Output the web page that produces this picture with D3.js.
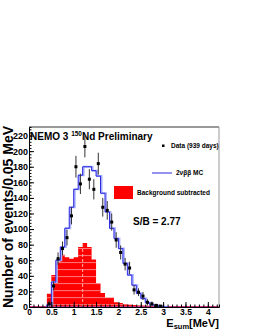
<!DOCTYPE html>
<html>
<head>
<meta charset="utf-8">
<script src="https://cdn.jsdelivr.net/npm/d3@7"></script>
<style>
body { margin: 0; background: #fff; }
svg { display: block; }
text { font-family: "Liberation Sans", Arial, sans-serif; font-weight: bold; }
</style>
</head>
<body>
<script>
var w = 255, h = 330;
var x0 = 29, x1 = 219, y0 = 307, y1 = 127;

// data points (background subtracted), bin centres in MeV
var dataE = [0.45, 0.55, 0.65, 0.75, 0.85, 0.95, 1.05, 1.15, 1.25, 1.35, 1.45, 1.55, 1.65,
             1.75, 1.85, 1.95, 2.05, 2.15, 2.25, 2.35, 2.45, 2.55, 2.65, 2.75, 2.85, 2.95];
var dataN = [4, 27, 62, 75, 89, 117, 180, 158, 206, 164, 151, 184, 128,
             124, 109, 86, 70, 55, 50, 22, 19, 14, 6, 4, 2, 1];
var dataErr = [4, 6, 8, 9, 10, 11, 14, 13, 14, 13, 13, 14, 12,
               12, 11, 10, 9, 8, 8, 6, 5, 5, 4, 3, 2, 2];

// 2nubb MC histogram, low bin edges
var mcLo = [0.4, 0.5, 0.6, 0.7, 0.8, 0.9, 1.0, 1.1, 1.2, 1.3, 1.4, 1.5, 1.6, 1.7,
            1.8, 1.9, 2.0, 2.1, 2.2, 2.3, 2.4, 2.5, 2.6, 2.7, 2.8, 2.9, 3.0];
var mcN = [3, 32, 60, 77, 101, 128, 151, 169, 180, 180, 175, 168, 146, 122,
           101, 88, 75, 56, 41, 28, 17.5, 11, 5.5, 3, 1.5, 0.7, 0];

// red histogram, low bin edges
var bgLo = [0.4, 0.5, 0.6, 0.7, 0.8, 0.9, 1.0, 1.1, 1.2, 1.3, 1.4, 1.5, 1.6, 1.7, 1.8, 1.9,
            2.0, 2.1, 2.2, 2.3, 2.4, 2.5, 2.6, 2.7, 2.8, 2.9, 3.0, 3.1, 3.2, 3.3, 3.4, 3.5,
            3.6, 3.7, 3.8, 3.9, 4.0, 4.1];
var bgN = [17, 41, 58, 67, 64, 62, 64, 77, 82, 77, 61, 30, 18, 12, 12, 6,
           5, 4, 3, 2.5, 2, 2, 1.5, 1.5, 1.5, 1.2, 1.2, 1, 1, 1, 1, 1,
           1, 1, 1, 1, 1, 1];
var binW = 0.1;

var xTicks = [0, 0.5, 1, 1.5, 2, 2.5, 3, 3.5, 4];
var yTicks = [0, 20, 40, 60, 80, 100, 120, 140, 160, 180, 200, 220];

var x = d3.scaleLinear().domain([0, 4.25]).range([x0, x1]);
var y = d3.scaleLinear().domain([0, 231]).range([y0, y1]);

var svg = d3.select("body").append("svg")
  .attr("width", w)
  .attr("height", h);

// step path helper
function stepPts(lo, vals) {
  var pts = [[x(lo[0]), y(0)]];
  lo.forEach(function(e, i) {
    pts.push([x(e), y(vals[i])]);
    pts.push([x(e + binW), y(vals[i])]);
  });
  pts.push([x(lo[lo.length - 1] + binW), y(0)]);
  return pts;
}

var bgPts = stepPts(bgLo, bgN);
var line = d3.line();

svg.append("clipPath").attr("id", "bgclip")
  .append("path").attr("d", line(bgPts) + "Z");

svg.append("path")
  .attr("d", line(bgPts) + "Z")
  .attr("fill", "#ff0000");

// faint hatch lines inside the red area
var hatch = svg.append("g").attr("clip-path", "url(#bgclip)");
d3.range(3, 90, 9).forEach(function(v) {
  hatch.append("line")
    .attr("x1", x0).attr("x2", x1)
    .attr("y1", y(v)).attr("y2", y(v))
    .attr("stroke", "#ff9a9a").attr("stroke-width", 0.8);
});
hatch.append("line")
  .attr("x1", x(1.2)).attr("x2", x(1.2))
  .attr("y1", y0).attr("y2", y(90))
  .attr("stroke", "#ffb0b0").attr("stroke-width", 1)
  .attr("stroke-dasharray", "3,2");

// zero line in magenta
svg.append("line")
  .attr("x1", x0).attr("x2", x1)
  .attr("y1", y0 - 0.5).attr("y2", y0 - 0.5)
  .attr("stroke", "#cc3388").attr("stroke-width", 1.2);

// MC histogram: pale shadow then dark blue line
var mcPts = stepPts(mcLo, mcN);
svg.append("path")
  .attr("d", line(mcPts.map(function(p) { return [p[0] + 1, p[1]]; })))
  .attr("fill", "none")
  .attr("stroke", "#aab0ff")
  .attr("stroke-width", 2);
svg.append("path")
  .attr("d", line(mcPts))
  .attr("fill", "none")
  .attr("stroke", "#2a2ae0")
  .attr("stroke-width", 1);

// data points with error bars
var pts = svg.append("g");
dataE.forEach(function(e, i) {
  pts.append("line")
    .attr("x1", x(e)).attr("x2", x(e))
    .attr("y1", y(Math.max(0, dataN[i] - dataErr[i])))
    .attr("y2", y(dataN[i] + dataErr[i]))
    .attr("stroke", "#333").attr("stroke-width", 1);
  pts.append("rect")
    .attr("x", x(e) - 1.5).attr("y", y(dataN[i]) - 1.5)
    .attr("width", 3).attr("height", 3)
    .attr("fill", "#000");
});

// frame
svg.append("line").attr("x1", x0).attr("x2", x1).attr("y1", y1).attr("y2", y1)
  .attr("stroke", "#999").attr("stroke-width", 2);
svg.append("line").attr("x1", x1).attr("x2", x1).attr("y1", y1).attr("y2", y0)
  .attr("stroke", "#999").attr("stroke-width", 1);

// axes (ticks pointing inside)
var xAxis = svg.append("g").attr("transform", "translate(0," + y0 + ")")
  .call(d3.axisBottom(x).tickValues(d3.range(0, 4.25, 0.1)).tickSize(-2.5).tickFormat(""));
xAxis.select(".domain").attr("stroke", "#000");
svg.append("g").attr("transform", "translate(0," + y0 + ")")
  .call(d3.axisBottom(x).tickValues(xTicks).tickSize(-5).tickFormat(d3.format("")))
  .call(function(g) {
    g.select(".domain").remove();
    g.selectAll("text").attr("y", 1.5).attr("font-size", 8.5).attr("font-family", null).attr("fill", "#000");
  });

var yAxis = svg.append("g").attr("transform", "translate(" + x0 + ",0)")
  .call(d3.axisLeft(y).tickValues(d3.range(0, 231, 4)).tickSize(-2.5).tickFormat(""));
yAxis.select(".domain").attr("stroke", "#000");
svg.append("g").attr("transform", "translate(" + x0 + ",0)")
  .call(d3.axisLeft(y).tickValues(yTicks).tickSize(-5).tickFormat(d3.format("")))
  .call(function(g) {
    g.select(".domain").remove();
    g.selectAll("text").attr("x", -1).attr("font-size", 9).attr("font-family", null).attr("fill", "#000");
  });

// titles
var title = svg.append("text").attr("x", 30).attr("y", 139.5).attr("font-size", 10);
title.append("tspan").text("NEMO 3 ");
title.append("tspan").attr("dy", -4).attr("font-size", 6.5).text("150");
title.append("tspan").attr("dy", 4).text("Nd Preliminary");

svg.append("text")
  .attr("transform", "translate(12.5," + (y0 + 1) + ") rotate(-90)")
  .attr("font-size", 14)
  .text("Number of events/0.05 MeV");

var xl = svg.append("text").attr("x", x1).attr("y", 327).attr("text-anchor", "end").attr("font-size", 11);
xl.append("tspan").text("E");
xl.append("tspan").attr("dy", 1.5).attr("font-size", 7.5).text("sum");
xl.append("tspan").attr("dy", -1.5).text("[MeV]");

// legend
var lg = svg.append("g").attr("font-size", 6.5);
lg.append("rect").attr("x", 162).attr("y", 144.5).attr("width", 2.5).attr("height", 2.5).attr("fill", "#000");
lg.append("text").attr("x", 171).attr("y", 148).text("Data (939 days)");
lg.append("line").attr("x1", 152).attr("x2", 172).attr("y1", 173).attr("y2", 173)
  .attr("stroke", "#2a2ae0").attr("stroke-width", 1);
lg.append("text").attr("x", 176).attr("y", 175).text("2\u03bd\u03b2\u03b2 MC");
lg.append("rect").attr("x", 114).attr("y", 186).attr("width", 19).attr("height", 13).attr("fill", "#ff0000");
lg.append("text").attr("x", 137).attr("y", 195).text("Background subtracted");

svg.append("text").attr("x", 133).attr("y", 225).attr("font-size", 10).text("S/B =  2.77");
</script>
</body>
</html>
